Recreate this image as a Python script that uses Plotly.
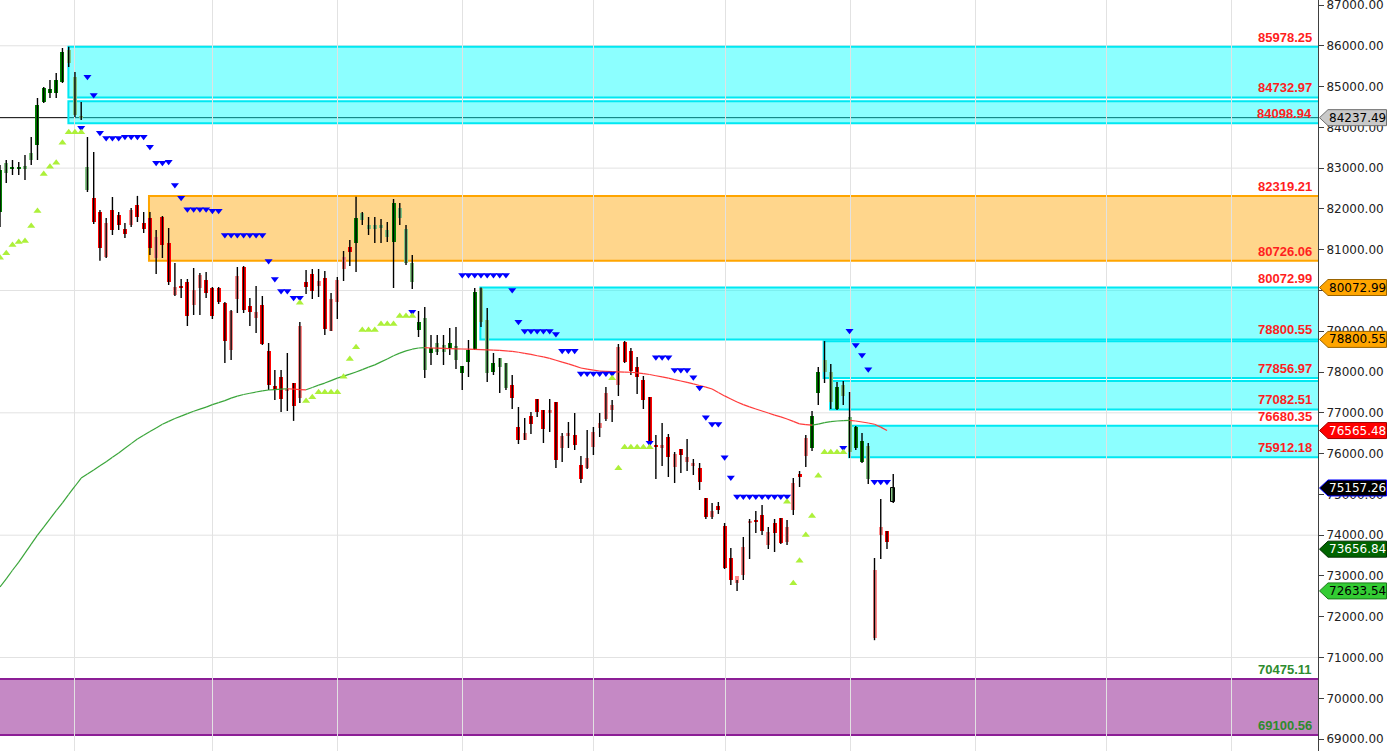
import plotly.graph_objects as go

# ---------------- data ----------------
OPEN = [
    81924, 83126, 82979, 83003, 83052, 83371, 83567, 84622, 84842, 84842,
    85112, 85897, 85235, 84278, 83028, 82268, 81924, 80821, 81973, 81851,
    81508, 81606, 82096, 81655, 81777, 80796, 81802, 81164, 79889, 80110,
    80208, 79644, 80061, 80257, 80061, 80061, 79693, 78541, 79791, 80576,
    79620, 79325, 79644, 78517, 77658, 77879, 77535, 77731, 77364, 80208,
    80404, 80110, 80306, 79006, 79718, 80527, 81066, 81164, 81900, 81606,
    81606, 81606, 81483, 81189, 82022, 81508, 80674, 79031, 79325, 78467,
    78712, 78663, 78590, 78639, 77977, 78246, 78565, 80050, 79276, 78001,
    78344, 78222, 77682, 76653, 76334, 76922, 77339, 77070, 76996, 77266,
    76138, 76432, 76456, 75721, 75647, 76163, 76628, 76849, 77070, 77682,
    78737, 78517, 78124, 77805, 77388, 76187, 76138, 76407, 75672, 76113,
    75795, 75696, 75647, 74912, 74446, 74716, 74225, 73441, 72828, 73023,
    74299, 74348, 74495, 73759, 74299, 74421, 73833, 74618, 75500, 75942,
    76138, 77486, 78295, 78001, 77094, 77682, 76898, 76138, 75794, 76187,
    71479, 74004, 74102, 74813]
HIGH = [
    83077, 83199, 83199, 83150, 83322, 83763, 84720, 84989, 85161, 85333,
    85946, 85978.25, 85357, 84622, 83763, 83396, 81973, 81777, 82292, 81924,
    81655, 82022, 82319.21, 81924, 81924, 81483, 81826, 81532, 80674, 80282,
    80282, 80551, 80429, 80453, 80085, 80085, 79718, 79521, 80576, 80600,
    79816, 80110, 79865, 78712, 78050, 78050, 78467, 77731, 79227, 80502,
    80527, 80527, 80477, 79938, 80331, 80968, 81238, 82300, 81924, 81802,
    81802, 81753, 81679, 82243, 82145, 81606, 80870, 79497, 79595, 78908,
    78908, 78908, 79080, 79104, 78148, 78786, 80061, 80072.99, 79571, 78467,
    78344, 78222, 77928, 77143, 76873, 77020, 77339, 77070, 77339, 77266,
    76505, 76775, 76996, 75942, 76579, 76653, 76996, 77633, 77315, 78688,
    78761, 78590, 78369, 77903, 77388, 76456, 76751, 76481, 76040, 76113,
    76358, 75868, 75770, 74912, 74789, 74814, 74299, 73686, 72900, 73956,
    74397, 74593, 74740, 74200, 74397, 74421, 74372, 75402, 75573, 76456,
    77045, 78124, 78760, 78197, 77756, 77780, 77511, 76677, 76505, 76260,
    73441, 74887, 74102, 75500]
LOW = [
    81557, 82635, 82832, 82832, 82709, 83077, 83199, 84597, 84720, 84720,
    85088, 85480, 84254, 84180, 82415, 81630, 80726.06, 80796, 81360, 81483,
    81287, 81557, 81679, 81410, 80870, 80404, 80796, 80134, 79865, 79816,
    79129, 79399, 79399, 79816, 79301, 79669, 78222, 78296, 79448, 79448,
    79129, 78957, 78663, 77560, 77315, 77020, 77045, 76802, 77241, 79914,
    79791, 79840, 78908, 79006, 79301, 80232, 80600, 80453, 81606, 81360,
    81164, 81164, 81189, 80061, 81606, 80625, 80036, 78859, 77854, 78173,
    78418, 78173, 78418, 78075, 77560, 77879, 78541, 79104, 77756, 77928,
    77486, 77560, 77094, 76236, 76334, 76481, 76898, 76260, 76530, 75647,
    75795, 76138, 76089, 75280, 75623, 75966, 76407, 76800, 76775, 77413,
    78222, 77928, 77462, 77094, 76138, 75378, 75696, 75427, 75280, 75525,
    75574, 75476, 75108, 74397, 74397, 74520, 73171, 72778, 72633.54, 72901,
    73416, 74053, 74004, 73661, 73588, 73784, 73759, 74495, 75181, 75672,
    76064, 77192, 77731, 77094, 77070, 77192, 75892, 76089, 75770, 75255,
    71425, 73416, 73661, 74789]
CLOSE = [
    82954, 82881, 83028, 83028, 82979, 83199, 84548, 84965, 84940, 85161,
    85848, 85578, 84303, 84229, 82464, 81679, 81042, 81655, 81483, 81606,
    81385, 81973, 81802, 81508, 81042, 81311, 81115, 80208, 80085, 80061,
    79374, 80012, 80380, 79938, 79374, 79718, 78761, 79497, 80355, 79521,
    79472, 79472, 78688, 77682, 77560, 77339, 77584, 77160, 79129, 80085,
    79987, 80232, 79055, 79791, 80257, 80821, 80943, 81777, 81728, 81508,
    81508, 81532, 81311, 82145, 81777, 80674, 80208, 79227, 78050, 78590,
    78492, 78492, 78712, 78295, 78148, 78541, 79963, 79227, 77977, 78222,
    78124, 77609, 77364, 76334, 76505, 76726, 77020, 76603, 77070, 75844,
    76432, 76505, 76211, 75378, 75893, 76530, 76751, 77486, 77192, 78614,
    78246, 78026, 77879, 77315, 76260, 76162, 76211, 75917, 75991, 75966,
    75917, 75770, 75304, 74446, 74593, 74618, 73195, 72900, 72999, 73710,
    74348, 74323, 74102, 74078, 74053, 73808, 74200, 75279, 75427, 76383,
    76922, 78001, 78001, 77266, 77633, 77413, 76040, 76653, 76309, 75378,
    73147, 74200, 73833, 75157.26]
# body colour class per candle: G dark green, g light green, R red, r pink
BODY = ("GgGGggGGGG" "GggggRRrRR" "RrRRRrRRrR" "RrrRRRRrrR"
        "RrRRRRrRrR" "RrRrrrRGgg" "gggGgggGgG" "ggGgGGGggG"
        "ggRRrRRRrR" "rrRRrrrrrr" "RRRRRRrRrR" "rrRRrRRRrr"
        "rRRrRRrrRr" "GGggGggGGg" "rrRg")

MA = [72730, 72930, 73140, 73340, 73560, 73780, 74000, 74200, 74400, 74600,
      74790, 75000, 75200, 75400, 75500, 75600, 75700, 75800, 75910, 76015,
      76130, 76245, 76360, 76450, 76540, 76630, 76720, 76790, 76860, 76920,
      76980, 77040, 77090, 77140, 77200, 77250, 77300, 77360, 77410, 77450,
      77480, 77510, 77540, 77560, 77570, 77580, 77590, 77580, 77570, 77565,
      77620, 77680, 77730, 77790, 77850, 77900, 77950, 78000, 78060, 78120,
      78175, 78250, 78320, 78400, 78465, 78520, 78560, 78590, 78600, 78590,
      78585, 78580, 78575, 78570, 78565, 78560, 78555, 78550, 78545, 78538,
      78530, 78520, 78505, 78485, 78460, 78435, 78400, 78370, 78335, 78290,
      78245, 78200, 78150, 78100, 78070, 78045, 78025, 78015, 78010, 78005,
      78000, 77995, 77980, 77960, 77940, 77910, 77880, 77850, 77815, 77780,
      77745, 77710, 77670, 77630, 77585, 77500, 77415, 77340, 77265, 77200,
      77145, 77095, 77045, 76995, 76945, 76900, 76850, 76790, 76730, 76710,
      76700, 76725, 76760, 76785, 76800, 76810, 76815, 76800, 76775, 76750,
      76720, 76650, 76565.48, None]

SAR_DOWN_X = [13, 14, 15, 16, 17, 18, 19, 20, 21, 22, 23, 24, 25, 26, 27, 28, 29,
              30, 31, 32, 33, 34, 35, 36, 37, 38, 39, 40, 41, 42, 43, 44, 45, 46,
              47, 48, 66, 74, 75, 76, 77, 78, 79, 80, 81, 82, 83, 84, 85, 86, 87,
              88, 89, 90, 91, 92, 93, 94, 95, 96, 97, 98, 104, 105, 106, 107, 108,
              109, 110, 111, 112, 113, 114, 115, 116, 117, 118, 119, 120, 121, 122,
              123, 124, 125, 126, 135, 136, 137, 138, 139, 140, 141, 142]
SAR_DOWN_Y = [83991, 85242, 84793, 83869, 83740, 83740, 83740, 83770, 83770, 83770,
              83770, 83526, 83133, 83133, 83158, 82586, 82275, 81990, 81990, 81990,
              81990, 81956, 81956, 81360, 81360, 81360, 81360, 81360, 81360, 81360,
              80723, 80282, 79987, 79987, 79823, 79823, 79480, 80380, 80380, 80380,
              80380, 80380, 80380, 80380, 80380, 80012, 79235, 79006, 79006, 79006,
              79006, 79006, 78933, 78523, 78523, 78523, 77964, 77964, 77964, 77964,
              77964, 77964, 76268, 78362, 78362, 78362, 78050, 78050, 78050, 77871,
              77616, 76890, 76726, 76726, 75910, 75414, 74948, 74948, 74948, 74948,
              74948, 74948, 74948, 74948, 74948, 76145, 79014, 78663, 78418, 78067,
              75311, 75311, 75311]
SAR_UP_X = [0, 1, 2, 3, 4, 5, 6, 7, 8, 9, 10, 11, 12, 13, 48, 49, 50, 51, 52, 53,
            54, 55, 56, 57, 58, 59, 60, 61, 62, 63, 64, 65, 66, 98, 99, 100, 101,
            102, 103, 104, 126, 127, 128, 129, 130, 131, 132, 133, 134, 135]
SAR_UP_Y = [80804, 80911, 81115, 81189, 81213, 81581, 81949, 82856, 83035, 83133,
            83624, 83879, 83879, 83879, 79700, 77290, 77381, 77504, 77504, 77504,
            77504, 77886, 78320, 78607, 79031, 79031, 79031, 79178, 79178, 79178,
            79374, 79374, 79374, 77847, 75640, 76155, 76155, 76155, 76155, 76155,
            74821, 72820, 73374, 74004, 74470, 75459, 76032, 76032, 76032, 76032]

ZONE_HI = [85978.25, 84640.46, 82319.21, 80072.99, 78757.0, 77780.70, 76680.35, 70475.11]
ZONE_LO = [84732.97, 84098.94, 80726.06, 78800.55, 77856.97, 77082.51, 75912.18, 69100.56]
ZONE_FROM = [10.95, 10.95, 23.85, 76.9, 131.85, 132.9, 135.95, -3]
ZONE_KIND = ["cyan", "cyan", "orange", "cyan", "cyan", "cyan", "cyan", "purple"]

LEVELS = [85978.25, 84732.97, 84098.94, 82319.21, 80726.06, 80072.99, 78800.55,
          77856.97, 77082.51, 76680.35, 75912.18, 70475.11, 69100.56]
LEVEL_COLOR = ["red"] * 11 + ["green"] * 2

H_LINE = 84237.49

TAG_VALUES = [84237.49, 80072.99, 78800.55, 76565.48, 75157.26, 73656.84, 72633.54]
TAG_FILL = ["#c9c9c9", "#ffa500", "#ffa500", "#ff0000", "#000000", "#006400", "#33cc33"]
TAG_EDGE = ["#6e6e6e", "#9a6400", "#9a6400", "#a00000", "#0000ff", "#003000", "#1a7a1a"]
TAG_TEXT = ["#000000", "#000000", "#000000", "#ffffff", "#ffffff", "#ffffff", "#000000"]

Y_TICKS = list(range(69000, 87001, 1000))
GRID_Y = [71000, 74000, 77000, 80000, 83000, 86000]
GRID_X = [12, 34, 54, 74, 95, 116.2, 136.2, 156.2, 177.1, 197.1]

# ---------------- figure ----------------
W, H = 1387, 751
PLOT_W = 1318
X_RANGE = [0, 211.0]
Y_RANGE = [68708, 87122.6]

BODY_COLORS = {"G": "#008000", "g": "#84c584", "R": "#ff0000", "r": "#ff8a8a"}
N = len(CLOSE)
idx = list(range(N))

fig = go.Figure()

# wicks
wx, wy = [], []
for i in idx:
    wx += [i, i, None]
    wy += [LOW[i], HIGH[i], None]
fig.add_trace(go.Scatter(x=wx, y=wy, mode="lines", line=dict(color="#000000", width=1.4),
                         hoverinfo="skip", showlegend=False))

# bodies
bases = [min(o, c) for o, c in zip(OPEN, CLOSE)]
heights = [max(abs(c - o), 35) for o, c in zip(OPEN, CLOSE)]
colors = [BODY_COLORS[b] for b in BODY]
lw = [0] * N
lw[-1] = 1
fig.add_trace(go.Bar(x=idx, y=heights, base=bases, width=0.64,
                     marker=dict(color=colors, line=dict(width=lw, color="#000000")),
                     hoverinfo="skip", showlegend=False))

# moving average coloured by slope
seg = {"up": ([], []), "dn": ([], [])}
for i in range(1, N):
    if MA[i] is None or MA[i - 1] is None:
        continue
    k = "up" if MA[i] >= MA[i - 1] else "dn"
    seg[k][0].extend([i - 1, i, None])
    seg[k][1].extend([MA[i - 1], MA[i], None])
fig.add_trace(go.Scatter(x=seg["up"][0], y=seg["up"][1], mode="lines",
                         line=dict(color="#3aa53a", width=1.2), hoverinfo="skip", showlegend=False))
fig.add_trace(go.Scatter(x=seg["dn"][0], y=seg["dn"][1], mode="lines",
                         line=dict(color="#ff3a3a", width=1.2), hoverinfo="skip", showlegend=False))

# SAR markers
fig.add_trace(go.Scatter(x=SAR_DOWN_X, y=SAR_DOWN_Y, mode="markers",
                         marker=dict(symbol="triangle-down", size=7, color="#0000ff",
                                     line=dict(width=0)),
                         hoverinfo="skip", showlegend=False))
fig.add_trace(go.Scatter(x=SAR_UP_X, y=SAR_UP_Y, mode="markers",
                         marker=dict(symbol="triangle-up", size=7, color="#adf03a",
                                     line=dict(width=0)),
                         hoverinfo="skip", showlegend=False))

shapes = []
for gy in GRID_Y:
    shapes.append(dict(type="line", xref="paper", x0=0, x1=1, yref="y", y0=gy, y1=gy,
                       line=dict(color="#e2e2e2", width=1), layer="below"))

ZSTYLE = {
    "cyan": ("rgba(0,255,255,0.45)", "rgb(0,232,242)"),
    "orange": ("rgba(255,165,0,0.45)", "rgb(255,165,0)"),
    "purple": ("rgba(140,20,140,0.5)", "rgb(140,30,150)"),
}
for hi, lo, x0, kind in zip(ZONE_HI, ZONE_LO, ZONE_FROM, ZONE_KIND):
    fc, lc = ZSTYLE[kind]
    shapes.append(dict(type="rect", xref="x", yref="y", x0=x0, x1=X_RANGE[1] + 2,
                       y0=lo, y1=hi, fillcolor=fc, line=dict(color=lc, width=2),
                       layer="below"))

shapes.append(dict(type="line", xref="paper", x0=0, x1=1, yref="y", y0=H_LINE, y1=H_LINE,
                   line=dict(color="#000000", width=1), layer="below"))

# price tags on the right axis
px = lambda p: p / PLOT_W
half = 8 * (Y_RANGE[1] - Y_RANGE[0]) / H
for v, fcol, ecol in zip(TAG_VALUES, TAG_FILL, TAG_EDGE):
    path = (f"M {px(1319.5)},{v} L {px(1328)},{v + half} L {px(1386.5)},{v + half} "
            f"L {px(1386.5)},{v - half} L {px(1328)},{v - half} Z")
    shapes.append(dict(type="path", xref="paper", yref="y", path=path, fillcolor=fcol,
                       line=dict(color=ecol, width=1), layer="above"))

annotations = []
for v, c in zip(LEVELS, LEVEL_COLOR):
    annotations.append(dict(xref="paper", yref="y", x=px(1314), y=v, xanchor="right",
                            yanchor="bottom", yshift=0, showarrow=False, text=f"{v:.2f}",
                            font=dict(family="Liberation Sans", size=13,
                                      color="#ff1e1e" if c == "red" else "#2e8b2e",
                                      weight="bold")))
for v, tc in zip(TAG_VALUES, TAG_TEXT):
    annotations.append(dict(xref="paper", yref="y", x=px(1357.5), y=v, xanchor="center",
                            yanchor="middle", showarrow=False, text=f"{v:.2f}",
                            font=dict(family="DejaVu Sans", size=12, color=tc)))

fig.update_layout(
    width=W, height=H,
    margin=dict(l=0, r=W - PLOT_W, t=0, b=0, pad=0, autoexpand=False),
    paper_bgcolor="#ffffff", plot_bgcolor="#ffffff",
    font=dict(family="DejaVu Sans", size=12, color="#222222"),
    showlegend=False, bargap=0,
    shapes=shapes, annotations=annotations,
    xaxis=dict(range=X_RANGE, showticklabels=False, tickvals=GRID_X, showgrid=True,
               gridcolor="#e2e2e2", gridwidth=1, zeroline=False, showline=False, ticks="",
               automargin=False),
    yaxis=dict(range=Y_RANGE, side="right", tickvals=Y_TICKS,
               ticktext=[f"{t:.2f}" for t in Y_TICKS], showgrid=False, zeroline=False,
               showline=True, linecolor="#404040", linewidth=1, ticks="outside",
               ticklen=5, tickcolor="#404040", ticklabeloverflow="allow", automargin=False,
               tickfont=dict(family="DejaVu Sans", size=12, color="#222222")),
)

fig.write_html("out.html", config={"displayModeBar": False},
               post_script="document.body.style.margin='0';document.body.style.overflow='hidden';")
